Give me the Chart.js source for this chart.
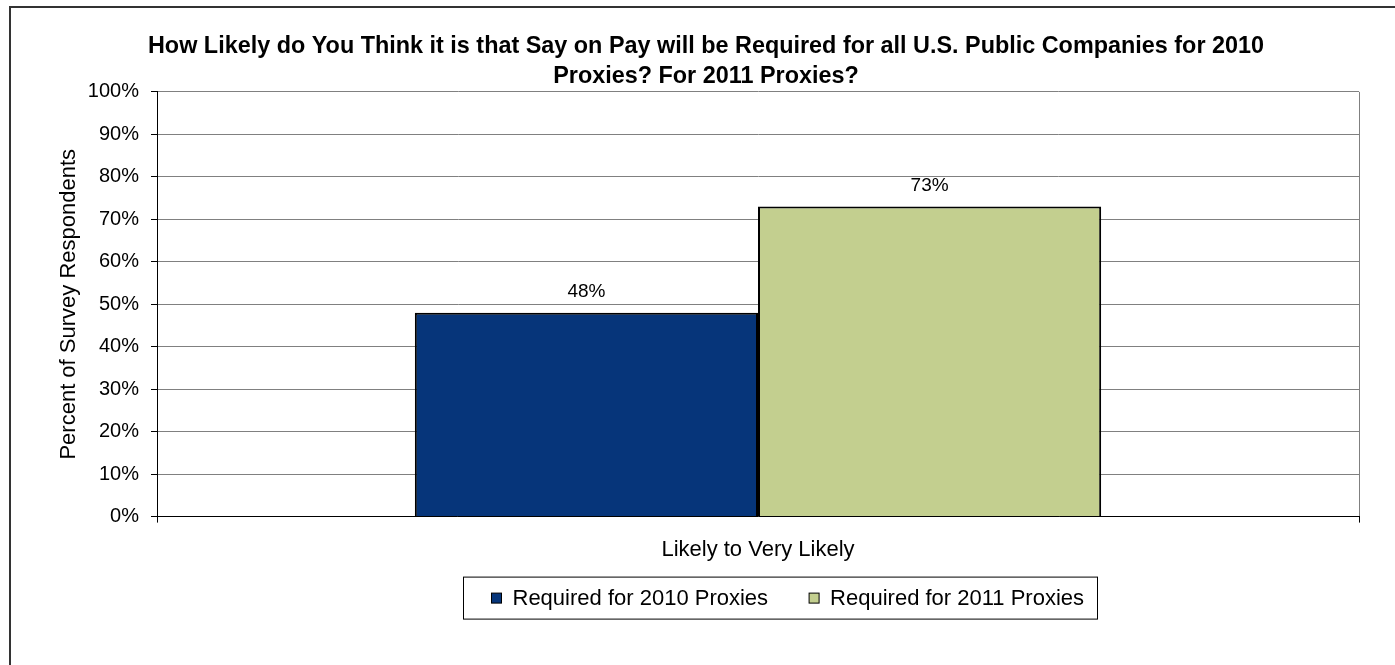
<!DOCTYPE html>
<html>
<head>
<meta charset="utf-8">
<title>Say on Pay</title>
<script src="https://cdn.jsdelivr.net/npm/chart.js@4/dist/chart.umd.min.js"></script>
<style>
	html, body { margin: 0; padding: 0; background: #fff; }
	#wrap { position: relative; width: 1395px; height: 665px; }
</style>
</head>
<body>
<div id="wrap"><canvas id="sayOnPayChart"></canvas></div>
<script>
const categories = ['Likely to Very Likely'];
const seriesNames = ['Required for 2010 Proxies', 'Required for 2011 Proxies'];
const required2010 = [48];
const required2011 = [73];
const yTicks = [0, 10, 20, 30, 40, 50, 60, 70, 80, 90, 100];

const FONT = "'Liberation Sans', Arial, sans-serif";

// value labels above each bar
const barLabels = {
	id: 'barLabels',
	afterDatasetsDraw (chart) {
		const ctx = chart.ctx;
		ctx.save();
		ctx.font = '19px ' + FONT;
		ctx.fillStyle = '#000';
		ctx.textAlign = 'center';
		ctx.textBaseline = 'middle';
		chart.data.datasets.forEach((ds, i) => {
			chart.getDatasetMeta(i).data.forEach((bar, j) => {
				ctx.fillText(ds.data[j] + '%', bar.x, bar.y - 21);
			});
		});
		ctx.restore();
	}
};

// boxed legend under the axis
const boxLegend = {
	id: 'boxLegend',
	afterDraw (chart) {
		const ctx = chart.ctx;
		const area = chart.chartArea;
		ctx.save();
		ctx.font = '22px ' + FONT;
		const box = 10, gap = 11, between = 41, padL = 28, padR = 13;
		const widths = chart.data.datasets.map(ds => ctx.measureText(ds.label).width);
		let total = padL + padR;
		widths.forEach((w, i) => { total += box + gap + w + (i > 0 ? between : 0); });
		const cx = (area.left + area.right) / 2 + 22;
		const left = Math.round(cx - total / 2) + 0.5;
		const top = area.bottom + 60.5, height = 42;

		ctx.strokeStyle = '#000';
		ctx.lineWidth = 1;
		ctx.strokeRect(left, top, Math.round(total), height);

		let x = left + padL;
		const midY = top + height / 2;
		ctx.textBaseline = 'middle';
		ctx.textAlign = 'left';
		chart.data.datasets.forEach((ds, i) => {
			ctx.fillStyle = ds.backgroundColor;
			ctx.fillRect(x, midY - box / 2, box, box);
			ctx.strokeRect(x, midY - box / 2, box, box);
			x += box + gap;
			ctx.fillStyle = '#000';
			ctx.fillText(ds.label, x, midY + 1);
			x += widths[i] + between;
		});
		ctx.restore();
	}
};

// outer frame of the chart object (top and left edges)
const frame = {
	id: 'frame',
	afterDraw (chart) {
		const ctx = chart.ctx;
		ctx.save();
		ctx.strokeStyle = '#333';
		ctx.lineWidth = 2;
		ctx.beginPath();
		ctx.moveTo(1395, 7);
		ctx.lineTo(10, 7);
		ctx.lineTo(10, 665);
		ctx.stroke();
		ctx.restore();
	}
};

const ctxEl = document.getElementById('sayOnPayChart').getContext('2d');

new Chart(ctxEl, {
	type: 'bar',
	data: {
		labels: categories,
		datasets: [
			{
				label: seriesNames[0],
				data: required2010,
				backgroundColor: '#06357A',
				borderColor: '#000',
				borderWidth: 2,
				borderSkipped: 'bottom'
			},
			{
				label: seriesNames[1],
				data: required2011,
				backgroundColor: '#C3CF8F',
				borderColor: '#000',
				borderWidth: 2,
				borderSkipped: 'bottom'
			}
		]
	},
	options: {
		responsive: true,
		maintainAspectRatio: false,
		animation: false,
		layout: {
			padding: { top: 32, left: 53, right: 36, bottom: 88 }
		},
		datasets: {
			bar: { categoryPercentage: 0.571, barPercentage: 1.0 }
		},
		plugins: {
			legend: { display: false },
			tooltip: { enabled: false },
			title: {
				display: true,
				text: [
					'How Likely do You Think it is that Say on Pay will be Required for all U.S. Public Companies for 2010',
					'Proxies? For 2011 Proxies?'
				],
				color: '#000',
				font: { family: FONT, size: 23.4, weight: 'bold', lineHeight: 1.28 },
				padding: { top: 0, bottom: 0 }
			}
		},
		scales: {
			x: {
				grid: {
					offset: true,
					color: '#808080',
					tickColor: '#000',
					tickLength: 6
				},
				border: { color: '#000', width: 1 },
				ticks: {
					color: '#000',
					padding: 14,
					font: { family: FONT, size: 22 }
				}
			},
			y: {
				min: 0,
				max: 100,
				afterFit (scale) { scale.width = 104; },
				afterBuildTicks (scale) { scale.ticks = yTicks.map(v => ({ value: v })); },
				grid: {
					color: '#808080',
					tickColor: '#000',
					tickLength: 6
				},
				border: { color: '#000', width: 1 },
				ticks: {
					color: '#000',
					padding: 12,
					font: { family: FONT, size: 20 },
					callback: v => v + '%'
				},
				title: {
					display: true,
					text: 'Percent of Survey Respondents',
					color: '#000',
					font: { family: FONT, size: 22 },
					padding: { top: 3, bottom: 0 }
				}
			}
		}
	},
	plugins: [barLabels, boxLegend, frame]
});
</script>
</body>
</html>
